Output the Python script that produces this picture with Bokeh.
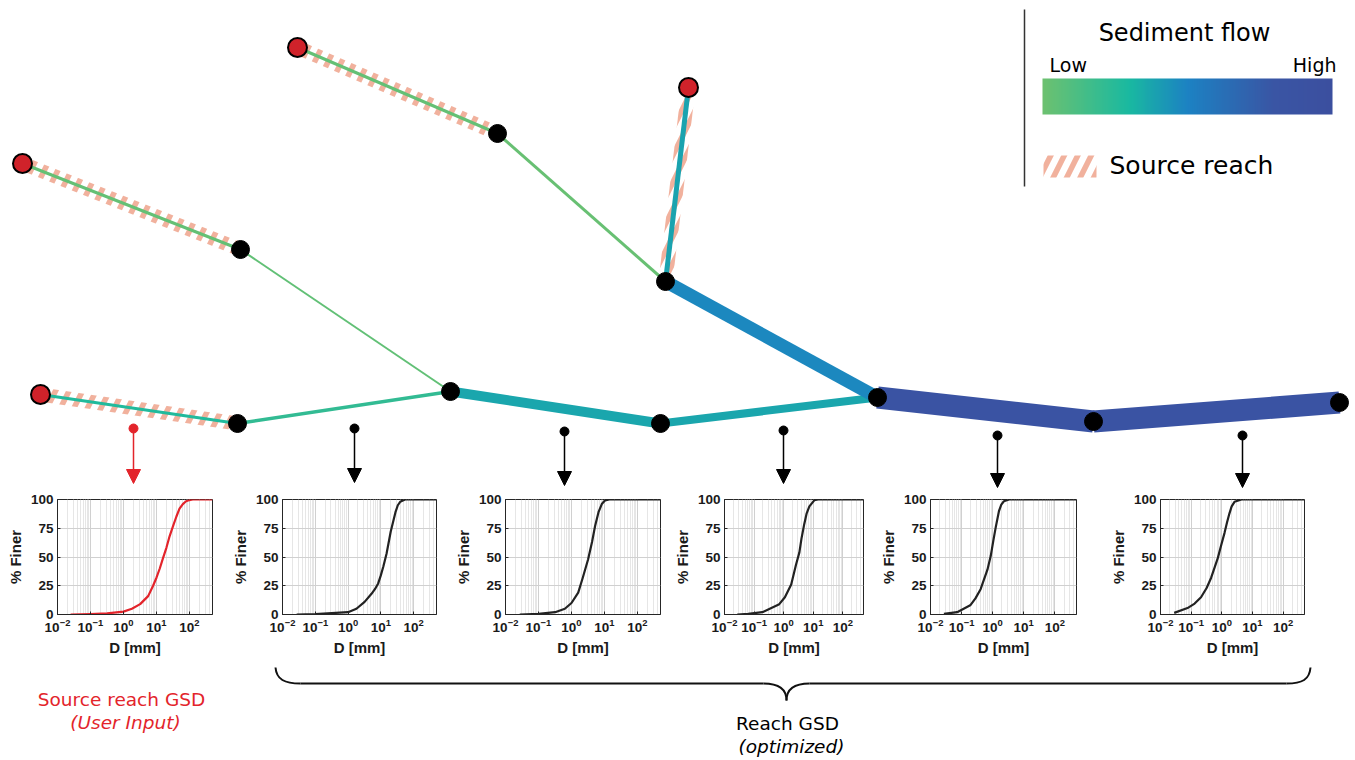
import numpy as np
from bokeh.plotting import figure
from bokeh.models import (Range1d, ColumnDataSource, Arrow, NormalHead, FixedTicker,
                          LogTickFormatter, Spacer, LinearColorMapper)
from bokeh.layouts import row, column
from bokeh.core.properties import value
from bokeh.embed import file_html
from bokeh.resources import INLINE

# ---------------- river network (schematic coordinates) ----------------
node_x = [22, 297, 688, 40, 240, 497, 665, 450, 237, 660, 877, 1093, 1339]
node_y = [163, 47, 87, 394, 249, 133, 281, 391, 423, 423, 397, 421, 402]
node_source = [1, 1, 1, 1, 0, 0, 0, 0, 0, 0, 0, 0, 0]

# reaches: upstream node -> downstream node, relative sediment flow (0 = low, 1 = high)
edge_from = [0, 1, 2, 3, 4, 5, 8, 7, 9, 6, 10, 11]
edge_to = [4, 5, 6, 8, 7, 6, 7, 9, 10, 10, 11, 12]
edge_flow = [0.03, 0.03, 0.38, 0.27, 0.04, 0.02, 0.21, 0.37, 0.37, 0.48, 0.86, 0.86]
edge_source = [1, 1, 1, 1, 0, 0, 0, 0, 0, 0, 0, 0]

# ---------------- grain size distributions (D in mm, % finer) ----------------
src_D = [0.025, 0.1, 0.32, 1.0, 1.8, 3.2, 5.6, 7.9, 10, 12.6, 15.8, 20, 25, 32, 40, 50, 63, 79, 100, 126, 500]
src_pct = [0, 0.4, 1.0, 2.5, 5, 9, 16, 25, 32, 40, 49, 58, 68, 77, 85, 92, 96, 98.5, 99.5, 100, 100]

reach1_D = [0.027, 0.1, 1.0, 1.8, 3.2, 5.2, 6.6, 8.3, 10, 12, 15, 20, 28, 33, 39, 55, 500]
reach1_pct = [0, 0.3, 2, 5, 11, 18, 22, 27, 34, 42, 53, 72, 89, 95, 98, 100, 100]

reach2_D = [0.027, 0.1, 0.32, 0.63, 1.0, 1.6, 2.2, 3.2, 4.2, 5.2, 6.6, 8.3, 10.5, 14, 500]
reach2_pct = [0, 0.5, 2, 5, 10, 19, 32, 48, 63, 77, 89, 96, 99.3, 100, 100]

reach3_D = [0.027, 0.063, 0.19, 0.71, 1.1, 1.8, 2.6, 3.4, 4.0, 5.0, 6.0, 7.4, 11, 14.5, 500]
reach3_pct = [0, 0.5, 2, 9, 15, 26, 43, 54, 66, 79, 88, 94, 99.5, 100, 100]

reach4_D = [0.027, 0.072, 0.19, 0.28, 0.41, 0.68, 0.87, 1.05, 1.26, 1.6, 1.9, 2.3, 3.4, 500]
reach4_pct = [0.5, 2, 8, 14, 22, 39, 51, 64, 76, 90, 95.5, 98.5, 100, 100]

reach5_D = [0.028, 0.076, 0.13, 0.21, 0.32, 0.45, 0.74, 0.95, 1.23, 1.48, 1.78, 2.1, 2.6, 4.4, 500]
reach5_pct = [1.4, 5.6, 9.5, 15, 23, 32, 49, 60, 71, 80, 88, 94, 98, 100, 100]

gsd_D = [src_D, reach1_D, reach2_D, reach3_D, reach4_D, reach5_D]
gsd_pct = [src_pct, reach1_pct, reach2_pct, reach3_pct, reach4_pct, reach5_pct]

pct_ticks = [0, 25, 50, 75, 100]
d_ticks = [0.01, 0.1, 1, 10, 100]

# reach sampled for each distribution: marker position above its panel
probe_x = [133, 354, 564, 783, 997, 1242]
probe_y = [428, 428, 431, 430, 435, 435]
probe_tip = [483, 482, 485, 483, 487, 487]

# ---------------- styling ----------------
W = 1355
TOP_H, ROW_H, BOT_H = 488, 177, 95
RED = "#E3242B"
NODE_RED = "#D0222A"
HATCH = "#F0A892"
SANS = "DejaVu Sans"
AX_FONT = "Liberation Sans"
edge_width = [3, 3, 5, 3, 2, 3, 3.5, 10, 8, 13, 22, 22]

stops = [(0.0, (0x6D, 0xC1, 0x70)), (0.3, (0x19, 0xB9, 0xA1)), (0.5, (0x1C, 0x82, 0xC3)),
         (0.8, (0x3A, 0x55, 0xA4)), (1.0, (0x3B, 0x4F, 0x9F))]
pos = np.linspace(0, 1, 256)
sp = [s[0] for s in stops]
chan = [np.interp(pos, sp, [s[1][k] for s in stops]) for k in range(3)]
palette = ["#%02x%02x%02x" % (int(round(r)), int(round(g)), int(round(b)))
           for r, g, b in zip(*chan)]
mapper = LinearColorMapper(palette=palette, low=0, high=1)


def flow_color(f):
    return palette[int(round(f * 255))]


# ---------------- network panel ----------------
top = figure(width=W, height=TOP_H, x_range=Range1d(0, W), y_range=Range1d(TOP_H, 0),
             output_backend="svg", toolbar_location=None, title=None,
             x_axis_location=None, y_axis_location=None, min_border=0)
top.grid.visible = False
top.outline_line_color = None

HATCH_KW = dict(fill_alpha=0, line_alpha=0, hatch_pattern="/", hatch_color=HATCH,
                hatch_scale=27, hatch_weight=5.5, hatch_alpha=0.9)

# hatched band marking source reaches
band_xs, band_ys = [], []
half = 7
for a, b, s in zip(edge_from, edge_to, edge_source):
    if not s:
        continue
    x0, y0, x1, y1 = node_x[a], node_y[a], node_x[b], node_y[b]
    L = np.hypot(x1 - x0, y1 - y0)
    nx, ny = -(y1 - y0) / L * half, (x1 - x0) / L * half
    band_xs.append([x0 + nx, x1 + nx, x1 - nx, x0 - nx])
    band_ys.append([y0 + ny, y1 + ny, y1 - ny, y0 - ny])
top.patches(band_xs, band_ys, **HATCH_KW)

# reaches coloured by sediment flow
edge_src = ColumnDataSource(dict(
    xs=[[node_x[a], node_x[b]] for a, b in zip(edge_from, edge_to)],
    ys=[[node_y[a], node_y[b]] for a, b in zip(edge_from, edge_to)],
    color=[flow_color(f) for f in edge_flow],
    width=edge_width,
))
top.multi_line("xs", "ys", line_color="color", line_width="width", line_cap="butt",
               source=edge_src)

# nodes
top.scatter([x for x, s in zip(node_x, node_source) if not s],
            [y for y, s in zip(node_y, node_source) if not s],
            size=18, fill_color="black", line_color="black")
top.scatter([x for x, s in zip(node_x, node_source) if s],
            [y for y, s in zip(node_y, node_source) if s],
            size=19, fill_color=NODE_RED, line_color="black", line_width=2)

# probes pointing to the distributions
for idx, col in ((slice(0, 1), RED), (slice(1, None), "black")):
    src = ColumnDataSource(dict(x=probe_x[idx], y0=probe_y[idx], y1=probe_tip[idx]))
    top.add_layout(Arrow(source=src, x_start="x", y_start="y0", x_end="x", y_end="y1",
                         line_color=col, line_width=1.5,
                         end=NormalHead(size=14, fill_color=col, line_color=col)))
    top.scatter("x", "y0", source=src, size=9, fill_color=col, line_color=col)

# legend
top.segment(x0=[1024], y0=[9], x1=[1024], y1=[186], line_color="#333333", line_width=1.5)
top.text(x=[1184], y=[32], text=["Sediment flow"], text_font=value(SANS), text_font_size="24px",
         text_align="center", text_baseline="middle", text_color="black")
top.text(x=[1049], y=[64], text=["Low"], text_font=value(SANS), text_font_size="19px",
         text_align="left", text_baseline="middle", text_color="black")
top.text(x=[1336], y=[64], text=["High"], text_font=value(SANS), text_font_size="19px",
         text_align="right", text_baseline="middle", text_color="black")
top.image(image=[np.linspace(0, 1, 256).reshape(1, 256)], x=1042, y=78, dw=290, dh=36,
          color_mapper=mapper)
top.quad(left=[1043], right=[1096], top=[155], bottom=[177], **HATCH_KW)
top.text(x=[1109], y=[165], text=["Source reach"], text_font=value(SANS),
         text_font_size="25px", text_align="left", text_baseline="middle", text_color="black")

# ---------------- distribution panels ----------------
frames = [(57, 212, 496, 616), (282, 436, 497, 616), (505, 660, 495, 614),
          (724, 863, 495, 614), (930, 1076, 498, 617), (1160, 1304, 499, 618)]
LEFT, RIGHT = 56, 6
minor = [m * 10.0 ** k for k in range(-2, 3) for m in range(2, 10)]

items = []
prev_right = 0
for i, (l, r, t, b) in enumerate(frames):
    fig_left = l - LEFT
    if fig_left > prev_right:
        items.append(Spacer(width=fig_left - prev_right, height=ROW_H))
    p = figure(width=LEFT + (r - l) + RIGHT, height=ROW_H, x_axis_type="log",
               x_range=Range1d(0.01, 500), y_range=Range1d(0, 100),
               output_backend="svg", toolbar_location=None, title=None,
               min_border_left=LEFT, min_border_right=RIGHT,
               min_border_top=t - TOP_H, min_border_bottom=TOP_H + ROW_H - b)
    p.xaxis.ticker = FixedTicker(ticks=d_ticks, minor_ticks=[])
    p.xaxis.formatter = LogTickFormatter()
    p.yaxis.ticker = FixedTicker(ticks=pct_ticks, minor_ticks=[])
    p.xgrid.ticker = FixedTicker(ticks=d_ticks, minor_ticks=minor)
    p.ygrid.ticker = FixedTicker(ticks=pct_ticks)
    p.xgrid.grid_line_color = "#d0d0d0"
    p.xgrid.minor_grid_line_color = "#e6e6e6"
    p.ygrid.grid_line_color = "#d0d0d0"
    p.outline_line_color = "#262626"
    p.outline_line_width = 1
    for ax in (p.xaxis, p.yaxis):
        ax.axis_line_color = "#262626"
        ax.major_tick_in = 3
        ax.major_tick_out = 0
        ax.major_tick_line_color = "#262626"
        ax.minor_tick_line_color = None
        ax.major_label_text_font = AX_FONT
        ax.major_label_text_font_style = "bold"
        ax.major_label_text_font_size = "13.5px"
        ax.major_label_text_color = "#1a1a1a"
        ax.axis_label_text_font = AX_FONT
        ax.axis_label_text_font_style = "bold"
        ax.axis_label_text_font_size = "15px"
        ax.axis_label_text_color = "#1a1a1a"
        ax.axis_label_standoff = 4
        ax.major_label_standoff = 4
    p.xaxis.axis_label = "D [mm]"
    p.yaxis.axis_label = "% Finer"
    p.line(gsd_D[i], gsd_pct[i], line_color=RED if i == 0 else "#222222", line_width=2.2,
           line_join="round")
    items.append(p)
    prev_right = fig_left + LEFT + (r - l) + RIGHT
if prev_right < W:
    items.append(Spacer(width=W - prev_right, height=ROW_H))
panels = row(*items)

# ---------------- annotations below ----------------
bot = figure(width=W, height=BOT_H, x_range=Range1d(0, W),
             y_range=Range1d(TOP_H + ROW_H + BOT_H, TOP_H + ROW_H),
             output_backend="svg", toolbar_location=None, title=None,
             x_axis_location=None, y_axis_location=None, min_border=0)
bot.grid.visible = False
bot.outline_line_color = None

# curly brace grouping the optimised reaches
by, tip_x, tip_y = 683, 786, 700
bot.bezier(x0=[275, tip_x - 23, tip_x, 1286], y0=[667, by, tip_y, by],
           x1=[300, tip_x, tip_x + 23, 1310], y1=[by, tip_y, by, 667],
           cx0=[276, tip_x - 6, tip_x, 1302], cy0=[679, by, 690, by],
           cx1=[284, tip_x, tip_x + 6, 1309], cy1=[by, 690, by, 679],
           line_color="#111111", line_width=2)
bot.segment(x0=[300, tip_x + 23], y0=[by, by], x1=[tip_x - 23, 1286], y1=[by, by],
            line_color="#111111", line_width=2)

bot.text(x=[121], y=[699], text=["Source reach GSD"], text_font=value(SANS),
         text_font_size="18.5px", text_align="center", text_baseline="middle", text_color=RED)
bot.text(x=[125], y=[722], text=["(User Input)"], text_font=value(SANS),
         text_font_size="18.5px", text_font_style="italic", text_align="center",
         text_baseline="middle", text_color=RED)
bot.text(x=[787], y=[723], text=["Reach GSD"], text_font=value(SANS),
         text_font_size="18.5px", text_align="center", text_baseline="middle", text_color="black")
bot.text(x=[791], y=[746], text=["(optimized)"], text_font=value(SANS),
         text_font_size="18.5px", text_font_style="italic", text_align="center",
         text_baseline="middle", text_color="black")

layout = column(top, panels, bot)
open("out.html", "w").write(file_html(layout, INLINE))
